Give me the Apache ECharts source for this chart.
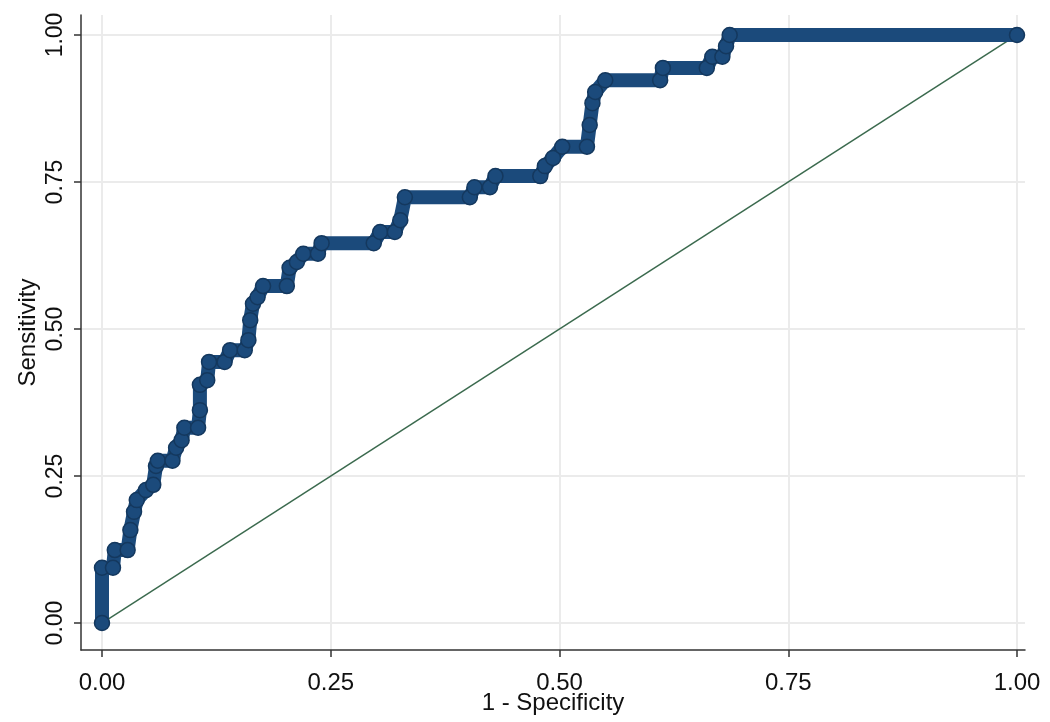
<!DOCTYPE html>
<html>
<head>
<meta charset="utf-8">
<script src="https://cdn.jsdelivr.net/npm/echarts@6/dist/echarts.min.js"></script>
<style>html,body{margin:0;padding:0;background:#fff}#c{width:1050px;height:722px}</style>
</head>
<body>
<div id="c"></div>
<script>
// 1 - Specificity (false positive rate)
const fpr = [0,0,0.012,0.014,0.028,0.031,0.035,0.038,0.048,0.056,0.059,0.061,0.077,0.081,0.087,0.090,0.105,0.107,0.107,0.115,0.117,0.134,0.140,0.156,0.160,0.162,0.165,0.170,0.176,0.202,0.205,0.213,0.220,0.236,0.240,0.297,0.304,0.320,0.326,0.331,0.402,0.407,0.424,0.430,0.479,0.484,0.493,0.503,0.530,0.533,0.536,0.539,0.550,0.610,0.613,0.661,0.667,0.678,0.682,0.686,1];
// Sensitivity
const sens = [0,0.094,0.094,0.124,0.124,0.158,0.189,0.209,0.226,0.235,0.267,0.276,0.276,0.298,0.311,0.332,0.332,0.362,0.405,0.413,0.444,0.444,0.464,0.464,0.481,0.515,0.543,0.554,0.573,0.573,0.604,0.614,0.628,0.628,0.646,0.646,0.665,0.665,0.685,0.724,0.724,0.741,0.741,0.760,0.760,0.777,0.791,0.810,0.810,0.847,0.884,0.903,0.923,0.923,0.944,0.944,0.963,0.963,0.981,1.0,1.0];
const tickValues = [0, 0.25, 0.5, 0.75, 1];
const refLine = [[0,0],[1,1]];

const rocData = fpr.map((x,i)=>[x, sens[i]]);
const fmt = v => v.toFixed(2);
const font = '"Liberation Sans", Arial, sans-serif';

const gridMarks = [];
tickValues.forEach(v => { gridMarks.push({xAxis: v}); gridMarks.push({yAxis: v}); });

const chart = echarts.init(document.getElementById('c'), null, {renderer:'canvas'});
chart.setOption({
  backgroundColor: '#ffffff',
  animation: false,
  grid: {left: 81, right: 25, top: 15, bottom: 72, containLabel: false, outerBoundsMode: 'none'},
  xAxis: {
    type: 'value', min: -0.02295, max: 1.00874,
    name: '1 - Specificity', nameLocation: 'middle', nameGap: 41, nameMoveOverlap: false,
    nameTextStyle: {color: '#111', fontSize: 24, fontFamily: font},
    axisLine: {show: true, onZero: false, lineStyle: {color: '#333', width: 1.5}},
    axisTick: {show: true, customValues: tickValues, length: 7, lineStyle: {color: '#333', width: 1.5}},
    axisLabel: {customValues: tickValues, formatter: fmt, color: '#111', fontSize: 24, fontFamily: font, margin: 21},
    splitLine: {show: false}
  },
  yAxis: {
    type: 'value', min: -0.0459, max: 1.034,
    name: 'Sensitivity', nameLocation: 'middle', nameGap: 41, nameRotate: 90, nameMoveOverlap: false,
    nameTextStyle: {color: '#111', fontSize: 24, fontFamily: font},
    axisLine: {show: true, onZero: false, lineStyle: {color: '#333', width: 1.5}},
    axisTick: {show: true, customValues: tickValues, length: 7, lineStyle: {color: '#333', width: 1.5}},
    axisLabel: {customValues: tickValues, formatter: fmt, rotate: 90, color: '#111', fontSize: 23, fontFamily: font, margin: 14},
    splitLine: {show: false}
  },
  series: [
    {
      type: 'line', data: [], silent: true, z: 0,
      markLine: {silent: true, z: 0, symbol: 'none', label: {show: false},
        lineStyle: {color: '#ebebeb', width: 2, type: 'solid'}, data: gridMarks, animation: false}
    },
    {
      type: 'line', data: refLine, symbol: 'none', z: 3, silent: true,
      lineStyle: {color: '#3b6a4e', width: 1.5}
    },
    {
      type: 'line', data: rocData, z: 10, silent: true,
      symbol: 'circle', symbolSize: 15, showAllSymbol: true,
      itemStyle: {color: '#1b4a7b', borderColor: '#14385e', borderWidth: 1.5},
      lineStyle: {color: '#1b4a7b', width: 14, cap: 'round', join: 'round'}
    }
  ]
});
</script>
</body>
</html>
